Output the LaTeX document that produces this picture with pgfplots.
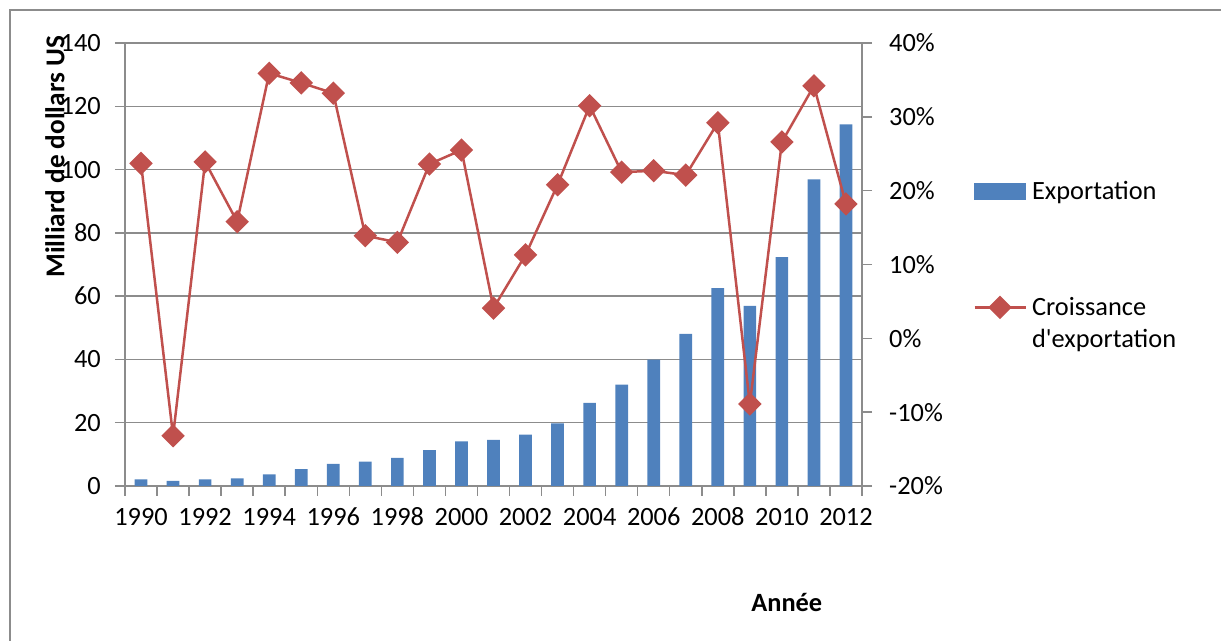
\documentclass[border=0pt]{standalone}
\usepackage{pgfplots}
\pgfplotsset{compat=1.18}
\usepackage{fontspec}
\setmainfont{Carlito}
\definecolor{barblue}{HTML}{4F81BD}
\definecolor{linered}{HTML}{C0504D}
\definecolor{axgray}{HTML}{8C8C8C}
\newcommand{\lbl}{\fontsize{15}{18}\selectfont}
\pgfplotsset{
    mylinelegend/.style={legend image code/.code={%
        \draw[mark repeat=2, mark phase=2, ##1] plot coordinates {(0cm,0cm) (0.51cm,0cm) (1.02cm,0cm)};}},
    mybarlegend/.style={legend image code/.code={%
        \fill[barblue] (0cm,-0.155cm) rectangle (1.02cm,0.155cm);}},
}

\begin{document}
\begin{tikzpicture}
\useasboundingbox (0,0) rectangle (24.42cm,12.82cm);
\draw[axgray, line width=0.05cm] (0.2cm,0) -- (0.2cm,12.62cm) -- (24.42cm,12.62cm);

% left axis: exports (bars)
\begin{axis}[
    at={(2.5cm,3.1cm)}, anchor=south west,
    scale only axis, width=14.74cm, height=8.86cm,
    xmin=-0.5, xmax=22.5, ymin=0, ymax=140,
    ytick={0,20,...,140},
    xtick={0,2,...,22},
    xticklabels={1990,1992,1994,1996,1998,2000,2002,2004,2006,2008,2010,2012},
    minor xtick={-0.5,0.5,...,22.5},
    tick align=outside, tick pos=left,
    major tick length=0.2cm, minor tick length=0.2cm,
    every tick/.style={axgray, line width=0.03cm},
    major x tick style={draw=none},
    axis line style={axgray, line width=0.03cm},
    ymajorgrids, grid style={axgray, line width=0.03cm},
    tick label style={font=\lbl, text=black},
    x tick label style={text height=0.65em, text depth=0pt},
    xticklabel shift=0.24cm, yticklabel shift=0.16cm,
    /pgf/number format/assume math mode=true,
    ylabel={Milliard de dollars US},
    ylabel style={at={(axis description cs:-0.095,0.743)}, anchor=center, font=\fontsize{15.5}{18}\selectfont\bfseries},
    xlabel={Année},
    xlabel style={at={(axis description cs:0.898,-0.262)}, anchor=center, font=\lbl\bfseries},
]
\addplot[ybar, bar width=0.254cm, fill=barblue, draw=none] coordinates {
    (0,2.1) (1,1.6) (2,2.1) (3,2.4) (4,3.7) (5,5.3) (6,7.0) (7,7.7)
    (8,8.9) (9,11.3) (10,14.1) (11,14.6) (12,16.2) (13,19.8) (14,26.3)
    (15,32.0) (16,39.9) (17,48.1) (18,62.5) (19,56.9) (20,72.3)
    (21,96.9) (22,114.3)
};
\end{axis}

% right axis: growth (line)
\begin{axis}[
    at={(2.5cm,3.1cm)}, anchor=south west,
    scale only axis, width=14.74cm, height=8.86cm,
    xmin=-0.5, xmax=22.5, ymin=-20, ymax=40,
    axis x line=none, axis y line*=right,
    ytick={-20,-10,...,40},
    yticklabels={-20\%,-10\%,0\%,10\%,20\%,30\%,40\%},
    tick align=outside, major tick length=0.2cm,
    every tick/.style={axgray, line width=0.03cm},
    axis line style={axgray, line width=0.03cm},
    tick label style={font=\lbl, text=black},
    yticklabel shift=0.22cm,
    legend style={draw=none, fill=none, inner sep=0pt,
        at={(1.1505,0.697)}, anchor=north west,
        row sep=1.76cm, font=\lbl, nodes={inner xsep=3pt}},
    legend cell align=left,
]
\addlegendimage{mybarlegend}
\addlegendentry{Exportation}
\addplot[linered, line width=0.05cm, mark=square*,
    mark size=4pt, mark options={rotate=45, solid, fill=linered},
    mylinelegend] coordinates {
    (0,23.7) (1,-13.2) (2,23.9) (3,15.8) (4,35.9) (5,34.6) (6,33.2)
    (7,13.9) (8,13.0) (9,23.6) (10,25.5) (11,4.1) (12,11.3) (13,20.8)
    (14,31.5) (15,22.5) (16,22.7) (17,22.1) (18,29.2) (19,-8.9)
    (20,26.6) (21,34.2) (22,18.2)
};
\addlegendentry{\smash{\makebox[0pt][l]{\raisebox{-0.64cm}{d\textquotesingle exportation}}}Croissance}
\end{axis}
\end{tikzpicture}
\end{document}
